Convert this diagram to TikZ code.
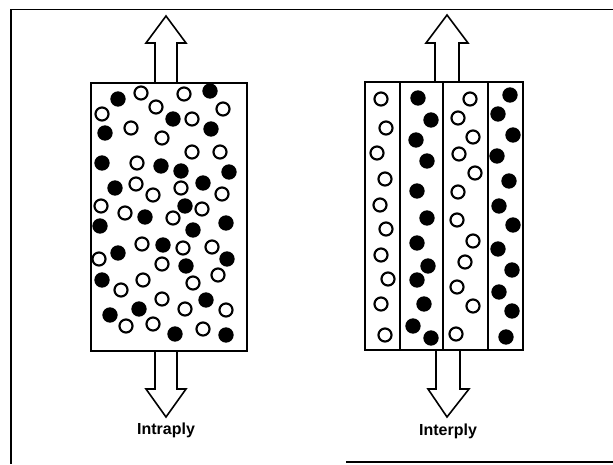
\documentclass[tikz,border=0pt]{standalone}
\usepackage{fontspec}
\usepackage{tikz}
\newfontfamily\plyfont{Liberation Sans}

\begin{document}
\begin{tikzpicture}[x=0.75pt,y=-0.75pt,
  dot/.style={circle,fill,inner sep=0pt,minimum size=11.5pt},
  ring/.style={circle,draw,line width=1.6pt,inner sep=0pt,minimum size=9.8pt},
  ply/.style={draw,line width=1.8pt},
  blk/.style={draw,line width=1.2pt,line join=miter},
  lbl/.style={font=\plyfont\bfseries\fontsize{12}{14}\selectfont}]
  \useasboundingbox (0,0) rectangle (613,464);

  % frame
  \draw[line width=1.4pt](613,9.5)--(11,9.5)--(11,464);
  \draw[line width=1.4pt](346,462)--(613,462);

  % intraply block
  \draw[ply](91,83) rectangle (247,351);
  \draw[blk](155,83)--(155,43)--(146,43)--(166,16)--(186,43)--(177,43)--(177,83);
  \draw[blk](155,351)--(155,389)--(146,389)--(166,417)--(186,389)--(177,389)--(177,351);
  \node[lbl] (intra) at (166,430) {Intraply};

  \node[dot] (a1) at (118,99){};  \node[dot] (a2) at (210,91){};
  \node[dot] (a3) at (173,119){}; \node[dot] (a4) at (211,129){};
  \node[dot] (a5) at (105,133){}; \node[dot] (a6) at (102,163){};
  \node[dot] (a7) at (161,166){}; \node[dot] (a8) at (181,171){};
  \node[dot] (a9) at (229,172){}; \node[dot] (a10) at (115,188){};
  \node[dot] (a11) at (203,183){};\node[dot] (a12) at (145,217){};
  \node[dot] (a13) at (185,206){};\node[dot] (a14) at (100,226){};
  \node[dot] (a15) at (193,230){};\node[dot] (a16) at (226,223){};
  \node[dot] (a17) at (163,245){};\node[dot] (a18) at (118,253){};
  \node[dot] (a19) at (227,259){};\node[dot] (a20) at (186,266){};
  \node[dot] (a21) at (102,280){};\node[dot] (a22) at (206,300){};
  \node[dot] (a23) at (139,309){};\node[dot] (a24) at (110,315){};
  \node[dot] (a25) at (175,334){};\node[dot] (a26) at (226,335){};

  \node[ring] (b1) at (141,93){};  \node[ring] (b2) at (184,94){};
  \node[ring] (b3) at (102,114){}; \node[ring] (b4) at (156,107){};
  \node[ring] (b5) at (192,119){}; \node[ring] (b6) at (223,109){};
  \node[ring] (b7) at (131,128){}; \node[ring] (b8) at (162,138){};
  \node[ring] (b9) at (192,152){}; \node[ring] (b10) at (220,152){};
  \node[ring] (b11) at (137,163){};\node[ring] (b12) at (136,184){};
  \node[ring] (b13) at (153,195){};\node[ring] (b14) at (181,188){};
  \node[ring] (b15) at (222,194){};\node[ring] (b16) at (101,206){};
  \node[ring] (b17) at (125,213){};\node[ring] (b18) at (173,218){};
  \node[ring] (b19) at (202,209){};\node[ring] (b20) at (142,244){};
  \node[ring] (b21) at (183,248){};\node[ring] (b22) at (212,247){};
  \node[ring] (b23) at (99,259){}; \node[ring] (b24) at (162,264){};
  \node[ring] (b25) at (218,275){};\node[ring] (b26) at (143,280){};
  \node[ring] (b27) at (193,283){};\node[ring] (b28) at (121,290){};
  \node[ring] (b29) at (162,299){};\node[ring] (b30) at (185,309){};
  \node[ring] (b31) at (226,310){};\node[ring] (b32) at (126,326){};
  \node[ring] (b33) at (153,324){};\node[ring] (b34) at (203,329){};

  % interply block
  \draw[ply](365,82) rectangle (523,350);
  \draw[ply](400,82)--(400,350);
  \draw[ply](443,82)--(443,350);
  \draw[ply](488,82)--(488,350);
  \draw[blk](435,82)--(435,43)--(426,43)--(447,15)--(468,43)--(459,43)--(459,82);
  \draw[blk](436,350)--(436,389)--(428,389)--(447,417)--(469,389)--(460,389)--(460,350);
  \node[lbl] (inter) at (448,431) {Interply};

  % column 1
  \node[ring] (c1) at (381,99){};  \node[ring] (c2) at (386,128){};
  \node[ring] (c3) at (377,153){}; \node[ring] (c4) at (385,179){};
  \node[ring] (c5) at (380,205){}; \node[ring] (c6) at (386,229){};
  \node[ring] (c7) at (381,255){}; \node[ring] (c8) at (388,279){};
  \node[ring] (c9) at (381,304){}; \node[ring] (c10) at (385,335){};
  % column 2
  \node[dot] (d1) at (418,98){};   \node[dot] (d2) at (431,120){};
  \node[dot] (d3) at (416,140){};  \node[dot] (d4) at (427,161){};
  \node[dot] (d5) at (417,191){};  \node[dot] (d6) at (427,218){};
  \node[dot] (d7) at (417,243){};  \node[dot] (d8) at (428,266){};
  \node[dot] (d9) at (417,280){};  \node[dot] (d10) at (424,304){};
  \node[dot] (d11) at (413,326){}; \node[dot] (d12) at (431,338){};
  % column 3
  \node[ring] (e1) at (470,99){};  \node[ring] (e2) at (458,118){};
  \node[ring] (e3) at (473,137){}; \node[ring] (e4) at (459,154){};
  \node[ring] (e5) at (475,173){}; \node[ring] (e6) at (458,192){};
  \node[ring] (e7) at (457,220){}; \node[ring] (e8) at (473,241){};
  \node[ring] (e9) at (465,262){}; \node[ring] (e10) at (457,287){};
  \node[ring] (e11) at (473,306){};\node[ring] (e12) at (456,334){};
  % column 4
  \node[dot] (f1) at (510,95){};   \node[dot] (f2) at (498,114){};
  \node[dot] (f3) at (513,135){};  \node[dot] (f4) at (497,156){};
  \node[dot] (f5) at (509,181){};  \node[dot] (f6) at (499,206){};
  \node[dot] (f7) at (513,225){};  \node[dot] (f8) at (498,249){};
  \node[dot] (f9) at (512,270){};  \node[dot] (f10) at (499,292){};
  \node[dot] (f11) at (512,311){}; \node[dot] (f12) at (506,337){};
\end{tikzpicture}
\end{document}
